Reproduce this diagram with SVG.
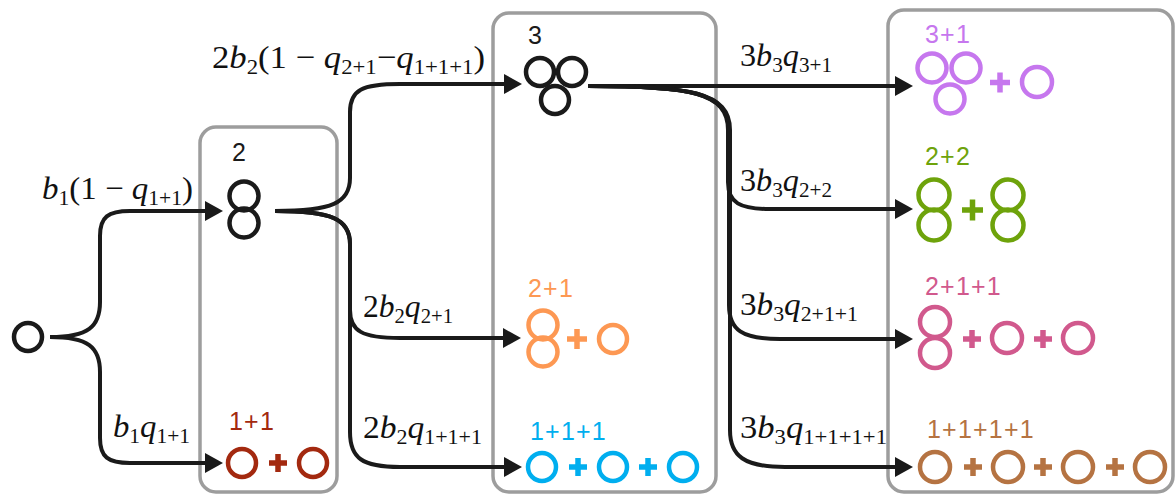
<svg xmlns="http://www.w3.org/2000/svg" width="1176" height="495" viewBox="0 0 1176 495">
<style>
.box{fill:none;stroke:#9d9d9d;stroke-width:3.5}
.c{fill:none;stroke-width:4.5}
.p{fill:none;stroke-width:5.5}
.e{fill:none;stroke:#1a1a1a;stroke-width:4;marker-end:url(#arr)}
.lab{font-family:"Liberation Sans",Arial,sans-serif;font-size:25px;letter-spacing:1.2px}
.m{font-family:"Liberation Serif","Times New Roman",serif;font-size:32px;fill:#111}
.i{font-style:italic}
.s{font-size:21px}
.k{stroke:#1a1a1a}
.red{stroke:#a3290f}.redt{fill:#a3290f}
.org{stroke:#fd9853}.orgt{fill:#fd9853}
.blu{stroke:#00aeef}.blut{fill:#00aeef}
.pur{stroke:#c677ee}.purt{fill:#c677ee}
.grn{stroke:#6ea30b}.grnt{fill:#6ea30b}
.pnk{stroke:#d1598d}.pnkt{fill:#d1598d}
.brn{stroke:#b57342}.brnt{fill:#b57342}
</style>
<defs>
<marker id="arr" markerUnits="userSpaceOnUse" markerWidth="18" markerHeight="20" refX="8" refY="10" orient="auto" viewBox="0 0 18 20">
<path d="M0,0 L18,10 L0,20 z" fill="#1a1a1a"/>
</marker>
</defs>
<rect width="1176" height="495" fill="#ffffff"/>

<g id="boxes">
<rect class="box" x="200" y="127" width="137" height="365" rx="16"/>
<rect class="box" x="493" y="13" width="223" height="479" rx="16"/>
<rect class="box" x="888" y="10" width="285" height="482" rx="16"/>
</g>

<g id="connectors">
<path class="e" d="M50,337 C88,337 100,327 100,302 V236 C100,217 108,211 130,211 H213"/>
<path class="e" d="M50,337 C88,337 100,347 100,372 V438 C100,457 108,463 130,463 H213"/>
<path class="e" d="M275,211 C332,211 350,203 350,178 V112 C350,90 362,84 400,84 H512"/>
<path class="e" d="M275,211 C332,211 350,219 350,244 V310 C350,331 362,338 400,338 H511"/>
<path class="e" d="M275,211 C332,211 350,219 350,244 V432 C350,458 362,467 400,467 H512"/>
<path class="e" d="M588,86 H903"/>
<path class="e" d="M588,86 C690,86 728,92 728,130 V182 C728,203 740,209 770,209 H903"/>
<path class="e" d="M588,86 C690,86 729,92 729,130 V305 C729,330 742,339 780,339 H903"/>
<path class="e" d="M588,86 C690,86 730,92 730,130 V430 C730,456 744,467 785,467 H903"/>
</g>

<g id="edge-labels">
<text class="m" x="42" y="199" textLength="151" lengthAdjust="spacingAndGlyphs"><tspan class="i">b</tspan><tspan class="s" dy="6">1</tspan><tspan dy="-6">(1 − </tspan><tspan class="i">q</tspan><tspan class="s" dy="6">1+1</tspan><tspan dy="-6">)</tspan></text>
<text class="m" x="113" y="437" textLength="77" lengthAdjust="spacingAndGlyphs"><tspan class="i">b</tspan><tspan class="s" dy="6">1</tspan><tspan class="i" dy="-6">q</tspan><tspan class="s" dy="6">1+1</tspan></text>
<text class="m" x="212" y="68" textLength="273" lengthAdjust="spacingAndGlyphs">2<tspan class="i">b</tspan><tspan class="s" dy="6">2</tspan><tspan dy="-6">(1 − </tspan><tspan class="i">q</tspan><tspan class="s" dy="6">2+1</tspan><tspan dy="-6">−</tspan><tspan class="i">q</tspan><tspan class="s" dy="6">1+1+1</tspan><tspan dy="-6">)</tspan></text>
<text class="m" x="363" y="317" textLength="90" lengthAdjust="spacingAndGlyphs">2<tspan class="i">b</tspan><tspan class="s" dy="6">2</tspan><tspan class="i" dy="-6">q</tspan><tspan class="s" dy="6">2+1</tspan></text>
<text class="m" x="363" y="438" textLength="119" lengthAdjust="spacingAndGlyphs">2<tspan class="i">b</tspan><tspan class="s" dy="6">2</tspan><tspan class="i" dy="-6">q</tspan><tspan class="s" dy="6">1+1+1</tspan></text>
<text class="m" x="740" y="66" textLength="92" lengthAdjust="spacingAndGlyphs">3<tspan class="i">b</tspan><tspan class="s" dy="6">3</tspan><tspan class="i" dy="-6">q</tspan><tspan class="s" dy="6">3+1</tspan></text>
<text class="m" x="740" y="191" textLength="92" lengthAdjust="spacingAndGlyphs">3<tspan class="i">b</tspan><tspan class="s" dy="6">3</tspan><tspan class="i" dy="-6">q</tspan><tspan class="s" dy="6">2+2</tspan></text>
<text class="m" x="740" y="315" textLength="118" lengthAdjust="spacingAndGlyphs">3<tspan class="i">b</tspan><tspan class="s" dy="6">3</tspan><tspan class="i" dy="-6">q</tspan><tspan class="s" dy="6">2+1+1</tspan></text>
<text class="m" x="740" y="438" textLength="147" lengthAdjust="spacingAndGlyphs">3<tspan class="i">b</tspan><tspan class="s" dy="6">3</tspan><tspan class="i" dy="-6">q</tspan><tspan class="s" dy="6">1+1+1+1</tspan></text>
</g>

<g id="node-1">
<circle class="c k" cx="28" cy="337" r="14"/>
</g>

<g id="node-2">
<text class="lab" x="232" y="161" fill="#1a1a1a">2</text>
<circle class="c k" cx="244" cy="196" r="14.5"/>
<circle class="c k" cx="244" cy="223" r="14.5"/>
</g>

<g id="node-1p1">
<text class="lab redt" x="229" y="430">1+1</text>
<circle class="c red" cx="242" cy="463" r="14"/>
<path class="p red" d="M269,463 H287 M278,454 V472"/>
<circle class="c red" cx="313" cy="463" r="14"/>
</g>

<g id="node-3">
<text class="lab" x="528" y="44" fill="#1a1a1a">3</text>
<circle class="c k" cx="540" cy="72" r="14"/>
<circle class="c k" cx="572" cy="72" r="14"/>
<circle class="c k" cx="555" cy="100" r="14"/>
</g>

<g id="node-2p1">
<text class="lab orgt" x="528" y="297">2+1</text>
<circle class="c org" cx="543" cy="325" r="14.5"/>
<circle class="c org" cx="543" cy="352" r="14.5"/>
<path class="p org" d="M567,339 H587 M577,329 V349"/>
<circle class="c org" cx="613" cy="339" r="14"/>
</g>

<g id="node-1p1p1">
<text class="lab blut" x="530" y="440">1+1+1</text>
<circle class="c blu" cx="542" cy="467" r="14"/>
<path class="p blu" d="M569,467 H587 M578,458 V476"/>
<circle class="c blu" cx="613" cy="467" r="14"/>
<path class="p blu" d="M639,467 H657 M648,458 V476"/>
<circle class="c blu" cx="683" cy="467" r="14"/>
</g>

<g id="node-3p1">
<text class="lab purt" x="925" y="43">3+1</text>
<circle class="c pur" cx="932" cy="68" r="14.5"/>
<circle class="c pur" cx="966" cy="68" r="14.5"/>
<circle class="c pur" cx="950" cy="99" r="14.5"/>
<path class="p pur" d="M990,82.5 H1010 M1000,72.5 V92.5"/>
<circle class="c pur" cx="1037" cy="82" r="15"/>
</g>

<g id="node-2p2">
<text class="lab grnt" x="925" y="165">2+2</text>
<circle class="c grn" cx="934" cy="195" r="15.5"/>
<circle class="c grn" cx="934" cy="225" r="15.5"/>
<path class="p grn" d="M962,210 H983 M972.5,199.5 V220.5"/>
<circle class="c grn" cx="1008" cy="195" r="15.5"/>
<circle class="c grn" cx="1008" cy="225" r="15.5"/>
</g>

<g id="node-2p1p1">
<text class="lab pnkt" x="925" y="295">2+1+1</text>
<circle class="c pnk" cx="935" cy="322" r="15"/>
<circle class="c pnk" cx="935" cy="353" r="15"/>
<path class="p pnk" d="M963,339 H981 M972,330 V348"/>
<circle class="c pnk" cx="1007" cy="338" r="15"/>
<path class="p pnk" d="M1034,339 H1052 M1043,330 V348"/>
<circle class="c pnk" cx="1078" cy="338" r="15"/>
</g>

<g id="node-1p1p1p1">
<text class="lab brnt" x="927" y="438">1+1+1+1</text>
<circle class="c brn" cx="935" cy="467" r="15"/>
<path class="p brn" d="M964,467 H982 M973,458 V476"/>
<circle class="c brn" cx="1008" cy="467" r="15"/>
<path class="p brn" d="M1034,467 H1052 M1043,458 V476"/>
<circle class="c brn" cx="1078" cy="467" r="15"/>
<path class="p brn" d="M1106,467 H1124 M1115,458 V476"/>
<circle class="c brn" cx="1150" cy="467" r="15"/>
</g>
</svg>
